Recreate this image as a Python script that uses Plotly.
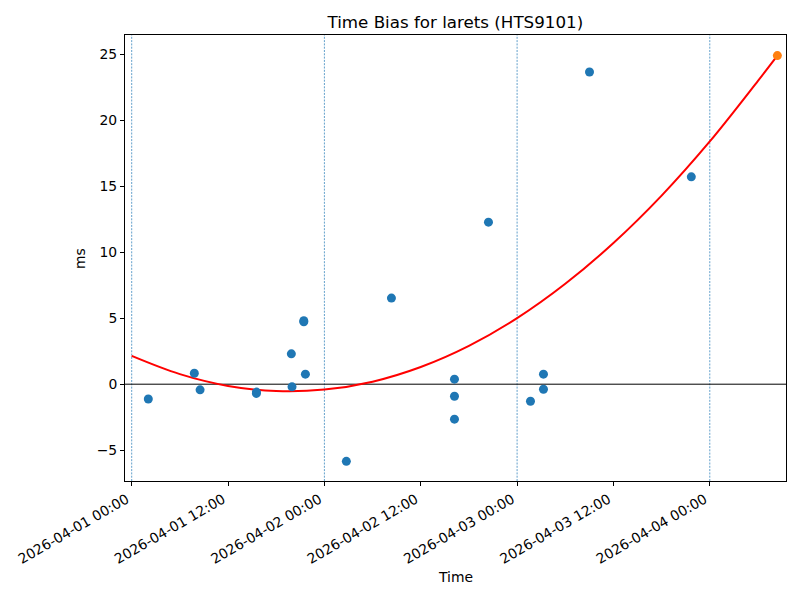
import plotly.graph_objects as go

# ---- data ----
obs_times = [
    "2026-04-01 02:04", "2026-04-01 07:48", "2026-04-01 08:31", "2026-04-01 15:32",
    "2026-04-01 15:32", "2026-04-01 19:53", "2026-04-01 19:58", "2026-04-01 21:26",
    "2026-04-01 21:26", "2026-04-01 21:38", "2026-04-02 02:44", "2026-04-02 08:21",
    "2026-04-02 16:12", "2026-04-02 16:12", "2026-04-02 16:12", "2026-04-02 20:26",
    "2026-04-03 01:40", "2026-04-03 03:17", "2026-04-03 03:17", "2026-04-03 09:01",
    "2026-04-03 21:42",
]
obs_values = [
    -1.12, 0.83, -0.43, -0.60,
    -0.70, 2.30, -0.20, 4.72,
    4.80, 0.76, -5.84, 6.52,
    0.38, -0.91, -2.65, 12.27,
    -1.29, 0.76, -0.38, 23.64,
    15.70,
]

pred_time = ["2026-04-04 08:25"]
pred_value = [24.88]

fit_times = [
    "2026-04-01 00:00", "2026-04-01 06:00", "2026-04-01 12:00", "2026-04-01 18:00",
    "2026-04-02 00:00", "2026-04-02 06:00", "2026-04-02 12:00", "2026-04-02 18:00",
    "2026-04-03 00:00", "2026-04-03 06:00", "2026-04-03 12:00", "2026-04-03 18:00",
    "2026-04-04 00:00", "2026-04-04 06:00", "2026-04-04 08:25",
]
fit_values = [
    2.14, 0.76, -0.13, -0.52,
    -0.41, 0.19, 1.30, 2.90,
    5.00, 7.60, 10.69, 14.28,
    18.38, 22.97, 24.88,
]

day_lines = ["2026-04-01 00:00", "2026-04-02 00:00", "2026-04-03 00:00", "2026-04-04 00:00"]

x_tickvals = [
    "2026-04-01 00:00", "2026-04-01 12:00", "2026-04-02 00:00", "2026-04-02 12:00",
    "2026-04-03 00:00", "2026-04-03 12:00", "2026-04-04 00:00",
]
x_ticktext = [
    "2026-04-01 00:00", "2026-04-01 12:00", "2026-04-02 00:00", "2026-04-02 12:00",
    "2026-04-03 00:00", "2026-04-03 12:00", "2026-04-04 00:00",
]
y_tickvals = [-5, 0, 5, 10, 15, 20, 25]

title_text = "Time Bias for larets (HTS9101)"
x_label = "Time"
y_label = "ms"

# ---- figure ----
FONT = "DejaVu Sans"
W, H = 800, 600
L, R, T, B = 125, 14.3, 35.3, 119

fig = go.Figure()

fig.add_trace(go.Scatter(
    x=fit_times, y=fit_values, mode="lines",
    line=dict(color="#ff0000", width=2, shape="spline", smoothing=1.0),
    hoverinfo="skip", showlegend=False,
))
fig.add_trace(go.Scatter(
    x=obs_times, y=obs_values, mode="markers",
    marker=dict(color="#1f77b4", size=9, line=dict(width=0)),
    showlegend=False,
))
fig.add_trace(go.Scatter(
    x=pred_time, y=pred_value, mode="markers",
    marker=dict(color="#ff7f0e", size=9, line=dict(width=0)),
    showlegend=False,
))

shapes = []
for d in day_lines:
    shapes.append(dict(
        type="line", xref="x", yref="paper", x0=d, x1=d, y0=0, y1=1,
        line=dict(color="#1f77b4", width=0.7, dash="2px,1.3px"), layer="below",
    ))
shapes.append(dict(
    type="line", xref="paper", yref="y", x0=0, x1=1, y0=0, y1=0,
    line=dict(color="black", width=1), layer="below",
))

plot_w = W - L - R
plot_h = H - T - B

fig.update_layout(
    width=W, height=H,
    margin=dict(l=L, r=R, t=T, b=B, pad=0, autoexpand=False),
    paper_bgcolor="white", plot_bgcolor="white",
    font=dict(family=FONT, size=13.9, color="black"),
    shapes=shapes,
    showlegend=False,
    hovermode=False,
    title=dict(
        text=title_text, font=dict(family=FONT, size=16.7, color="black"),
        x=(L + plot_w / 2) / W, xanchor="center", xref="container",
        y=1 - 22 / H, yanchor="middle", yref="container",
    ),
    annotations=[
        dict(text=x_label, xref="paper", yref="paper", x=0.5, y=-(577 - (T + plot_h)) / plot_h,
             xanchor="center", yanchor="middle", showarrow=False,
             font=dict(family=FONT, size=13.9, color="black")),
        dict(text=y_label, xref="paper", yref="paper", x=-(L - 80) / plot_w, y=0.5,
             xanchor="center", yanchor="middle", showarrow=False, textangle=-90,
             font=dict(family=FONT, size=13.9, color="black")),
    ],
)

fig.update_xaxes(
    type="date", automargin=False,
    range=["2026-03-31 23:09:54", "2026-04-04 09:29:30"],
    tickmode="array", tickvals=x_tickvals, ticktext=x_ticktext, tickangle=-30,
    ticklabelshift=-5,
    ticks="outside", ticklen=4, tickwidth=1, tickcolor="black",
    showline=True, linecolor="black", linewidth=1, mirror=True,
    showgrid=False, zeroline=False,
    tickfont=dict(family=FONT, size=13.9, color="black"),
)
fig.update_yaxes(
    automargin=False,
    range=[-7.33, 26.44],
    tickmode="array", tickvals=y_tickvals,
    ticks="outside", ticklen=4, tickwidth=1, tickcolor="black",
    showline=True, linecolor="black", linewidth=1, mirror=True,
    showgrid=False, zeroline=False,
    tickfont=dict(family=FONT, size=13.9, color="black"),
)

fig.write_html(
    "out.html",
    config={"displayModeBar": False, "staticPlot": True},
    post_script="document.body.style.margin='0px';",
)
